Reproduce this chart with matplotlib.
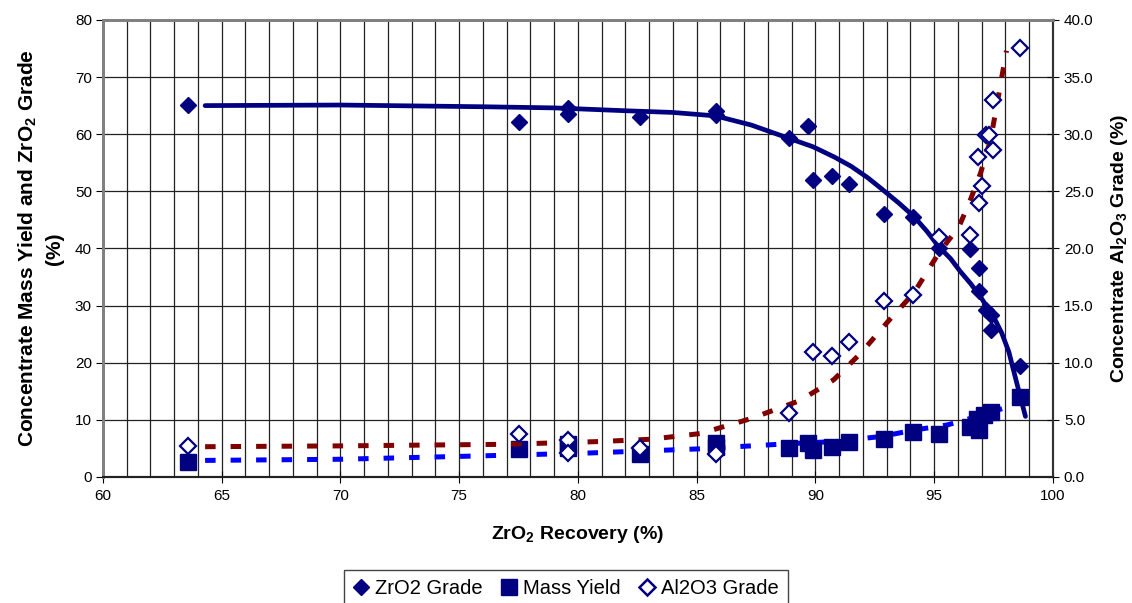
import matplotlib
matplotlib.use("Agg")
import matplotlib.pyplot as plt
from matplotlib.lines import Line2D
from matplotlib.ticker import MultipleLocator, FormatStrFormatter

plt.rcParams["font.family"] = ["Liberation Sans", "DejaVu Sans"]
plt.rcParams["mathtext.fontset"] = "custom"
plt.rcParams["mathtext.rm"] = "Liberation Sans"
plt.rcParams["mathtext.bf"] = "Liberation Sans:bold"

# ZrO2 grade points (left axis)
zr_x = [63.6, 77.5, 79.6, 79.6, 82.6, 85.8, 85.8, 88.9, 89.7, 89.9, 90.7,
        91.4, 92.9, 94.1, 95.2, 96.5, 96.9, 96.9, 97.2, 97.4, 97.4, 98.6]
zr_y = [65.1, 62.2, 64.5, 63.5, 63.0, 64.0, 63.3, 59.4, 61.4, 52.0, 52.7,
        51.3, 46.0, 45.5, 40.0, 39.9, 36.5, 32.5, 29.3, 28.4, 25.7, 19.5]

# mass yield points (left axis)
my_x = [63.6, 77.5, 79.6, 79.6, 82.6, 85.8, 85.8, 88.9, 89.7, 89.9, 90.7,
        91.4, 92.9, 94.1, 95.2, 96.5, 96.8, 96.9, 97.1, 97.4, 98.6]
my_y = [2.6, 4.9, 5.7, 5.0, 4.0, 6.0, 5.3, 5.0, 6.0, 4.8, 5.2,
        6.2, 6.6, 7.8, 7.6, 8.8, 10.2, 8.2, 10.9, 11.4, 14.0]

# Al2O3 grade points (right axis)
al_x = [63.6, 77.5, 79.6, 79.6, 82.6, 85.8, 88.9, 89.9, 90.7, 91.4, 92.9,
        94.1, 95.2, 96.5, 96.9, 97.0, 96.85, 97.2, 97.3, 97.5, 97.5, 98.6]
al_y = [2.7, 3.8, 3.2, 2.1, 2.5, 2.0, 5.6, 10.9, 10.6, 11.8, 15.4,
        15.9, 21.0, 21.2, 24.0, 25.5, 28.0, 29.9, 29.9, 28.6, 33.0, 37.5]

# trend lines
zr_fit_x = [64.3, 70, 76, 79, 82, 84, 85.8, 87.3, 88.8, 89.9, 90.8, 91.5,
            92.2, 92.8, 93.5, 94.15, 94.7, 95.2, 95.7, 96.1, 96.55, 96.96,
            97.5, 97.85, 98.15, 98.5, 98.85]
zr_fit_y = [65.0, 65.1, 64.8, 64.6, 64.1, 63.8, 63.2, 61.6, 59.4, 57.8, 56.0,
            54.4, 52.4, 50.4, 48.0, 45.6, 43.0, 40.3, 38.2, 36.0, 33.8, 31.5,
            28.1, 25.2, 21.9, 16.2, 10.6]

my_fit_x = [64.3, 70, 76, 80.5, 85, 88.8, 90.8, 92.8, 94.15, 95.55, 96.25,
            97.9, 98.9]
my_fit_y = [2.9, 3.1, 3.7, 4.2, 4.9, 5.8, 6.2, 7.1, 8.2, 9.1, 9.9,
            12.0, 14.1]

al_fit_x = [64.3, 70, 77, 80.9, 83.05, 85.16, 87.27, 89.37, 90.77, 91.9,
            93.1, 94.15, 95.2, 96.05, 96.54, 96.96, 97.38, 97.66, 98.05]
al_fit_y = [2.65, 2.72, 2.86, 3.1, 3.3, 3.8, 5.1, 6.7, 8.5, 10.8,
            13.7, 16.1, 19.6, 21.9, 24.3, 26.6, 29.5, 32.7, 37.3]

navy = "#000080"
fig = plt.figure(figsize=(11.32, 6.03), dpi=100)
ax = fig.add_axes([0.091, 0.209, 0.839, 0.758])
ax2 = ax.twinx()

# grid
ax.set_xlim(60, 100)
ax.set_ylim(0, 80)
ax2.set_ylim(0, 40)
ax.xaxis.set_major_locator(MultipleLocator(5))
ax.xaxis.set_minor_locator(MultipleLocator(1))
ax.yaxis.set_major_locator(MultipleLocator(10))
ax2.yaxis.set_major_locator(MultipleLocator(5))
ax2.yaxis.set_major_formatter(FormatStrFormatter("%.1f"))
ax.grid(which="both", axis="x", color="#222222", lw=0.9)
ax.grid(which="major", axis="y", color="#222222", lw=0.9)
ax.set_axisbelow(True)

# series
ax.plot(zr_fit_x, zr_fit_y, color=navy, lw=3.4, solid_capstyle="round",
        solid_joinstyle="round", zorder=3)
ax.plot(my_fit_x, my_fit_y, color="#0000ff", lw=3.6, dashes=(2.1, 3.0), zorder=3)
ax.plot(zr_x, zr_y, ls="none", marker="D", ms=7.8, color=navy, zorder=4)
ax.plot(my_x, my_y, ls="none", marker="s", ms=11, color=navy, zorder=4)
ax2.plot(al_fit_x, al_fit_y, color="#800000", lw=3.6, dashes=(2.1, 3.0), zorder=3)
ax2.plot(al_x, al_y, ls="none", marker="D", ms=7.8, mfc="white", mec=navy,
         mew=1.6, zorder=4)

# axes styling
for a in (ax, ax2):
    a.spines["left"].set_color("#808080")
    a.spines["left"].set_linewidth(2)
    a.spines["top"].set_color("#808080")
    a.spines["top"].set_linewidth(2)
    a.spines["bottom"].set_color("#222222")
    a.spines["bottom"].set_linewidth(1.5)
    a.spines["right"].set_color("#333333")
    a.spines["right"].set_linewidth(1.5)

ax.tick_params(axis="y", direction="out", length=5, labelsize=11, pad=3)
ax.tick_params(axis="x", which="major", direction="inout", length=8,
               labelsize=11, pad=5)
ax.tick_params(axis="x", which="minor", length=0)
ax2.tick_params(axis="y", direction="inout", length=8, labelsize=11, pad=4)

ax.set_xlabel(r"ZrO$_\mathbf{2}$ Recovery (%)", fontsize=14,
              fontweight="bold", labelpad=15)
ax.set_ylabel("Concentrate Mass Yield and ZrO$_\\mathbf{2}$ Grade\n(%)",
              fontsize=15, fontweight="bold", labelpad=8, linespacing=1.4)
ax2.set_ylabel(r"Concentrate Al$_\mathbf{2}$O$_\mathbf{3}$ Grade (%)",
               fontsize=14, fontweight="bold", labelpad=11)

handles = [
    Line2D([], [], ls="none", marker="D", ms=8.5, color=navy),
    Line2D([], [], ls="none", marker="s", ms=12, color=navy),
    Line2D([], [], ls="none", marker="D", ms=8.5, mfc="white", mec=navy, mew=1.8),
]
labels = ["ZrO2 Grade", "Mass Yield", "Al2O3 Grade"]
fig.legend(handles, labels, loc="upper center", bbox_to_anchor=(0.5, 0.055),
           ncol=3, fontsize=14.5, frameon=True, fancybox=False,
           edgecolor="#444444", framealpha=1, handlelength=0.8,
           handletextpad=0.3, columnspacing=0.9, borderpad=0.45,
           borderaxespad=0)

fig.savefig("out.png", dpi=100)
